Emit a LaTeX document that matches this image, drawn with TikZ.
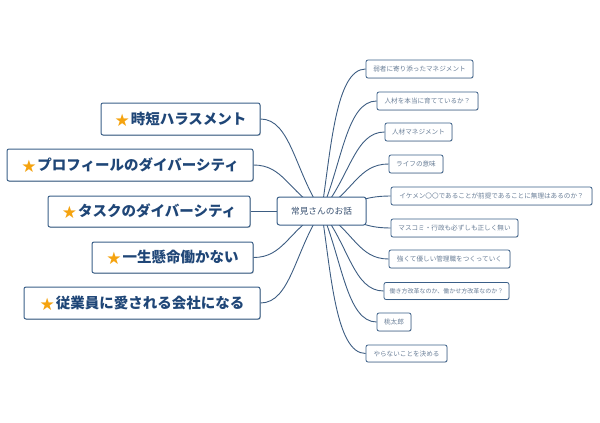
\documentclass[tikz,border=0pt]{standalone}
\usepackage{fontspec}
\newfontfamily\jp{Noto Sans CJK JP}
\newfontfamily\symfont{DejaVu Sans}
\usetikzlibrary{backgrounds,shadows}
\definecolor{boxline}{HTML}{3A5F88}
\definecolor{conncol}{HTML}{3D5D82}
\definecolor{lefttext}{HTML}{1F4677}
\definecolor{righttext}{HTML}{6A7F98}
\definecolor{centertext}{HTML}{3A5272}
\definecolor{starcol}{HTML}{F5A30F}
\newcommand\mystar{\raisebox{-2pt}{\symfont\fontsize{17}{17}\selectfont\color{starcol}★}\hspace{1pt}}
\tikzset{
  lbox/.style={draw=boxline, line width=1pt, rounded corners=2pt, fill=white,
    minimum height=32pt, inner xsep=0pt, text=lefttext,
    drop shadow={shadow xshift=0.8pt, shadow yshift=-0.8pt, opacity=0.2, fill=black},
    font=\jp\bfseries\fontsize{14.5}{16}\selectfont},
  rbox/.style={draw=boxline, line width=0.8pt, rounded corners=2pt, fill=white,
    minimum height=18pt, inner xsep=0pt, text=righttext,
    drop shadow={shadow xshift=0.6pt, shadow yshift=-0.6pt, opacity=0.15, fill=black},
    font=\jp\fontsize{6.6}{8}\selectfont},
  cbox/.style={draw=boxline, line width=1pt, rounded corners=2.5pt, fill=white,
    minimum width=89pt, minimum height=28pt, text=centertext,
    font=\jp\fontsize{8.7}{10}\selectfont},
  conn/.style={draw=conncol, line width=0.9pt}
}
\begin{document}
\begin{tikzpicture}[x=1pt,y=-1pt]
\useasboundingbox (0,0) rectangle (600,423);
% centre
\node[cbox] (c) at (321.5,211) {常見さんのお話};
% left branches
\node[lbox, minimum width=159pt] (l1) at (180.5,119) {\mystar 時短ハラスメント};
\node[lbox, minimum width=246pt] (l2) at (130,165) {\mystar プロフィールのダイバーシティ};
\node[lbox, minimum width=202pt, minimum height=31pt] (l3) at (149,211.5) {\mystar タスクのダイバーシティ};
\node[lbox, minimum width=161pt, minimum height=31pt] (l4) at (172.5,257.5) {\mystar 一生懸命働かない};
\node[lbox, minimum width=236pt] (l5) at (142,303) {\mystar 従業員に愛される会社になる};
% right branches
\node[rbox, minimum width=107pt] (r1) at (419.5,69) {弱者に寄り添ったマネジメント};
\node[rbox, minimum width=101pt] (r2) at (427.5,101) {人材を本当に育てているか？};
\node[rbox, minimum width=67pt] (r3) at (418.5,132) {人材マネジメント};
\node[rbox, minimum width=54pt] (r4) at (416,164) {ライフの意味};
\node[rbox, minimum width=201pt] (r5) at (491.5,196) {イケメン〇〇であることが前提であることに無理はあるのか？};
\node[rbox, minimum width=127pt] (r6) at (454.5,228) {マスコミ・行政も必ずしも正しく無い};
\node[rbox, minimum width=121pt] (r7) at (449.5,259) {強くて優しい管理職をつくっていく};
\node[rbox, minimum width=125pt, minimum height=17pt, font=\jp\fontsize{6}{8}\selectfont] (r8) at (446.5,291) {働き方改革なのか、働かせ方改革なのか？};
\node[rbox, minimum width=34pt] (r9) at (394,322) {桃太郎};
\node[rbox, minimum width=81pt, minimum height=17pt] (r10) at (406.5,353.5) {やらないことを決める};
% connectors
\begin{pgfonlayer}{background}
\draw[conn] (c.center) .. controls +(-26.5,-39.6) and +(30,0) .. (l1.east);
\draw[conn] (c.center) .. controls +(-33.5,-19.8) and +(30,0) .. (l2.east);
\draw[conn] (c.center) -- (l3.east |- c.center);
\draw[conn] (c.center) .. controls +(-33.5,20) and +(30,0) .. (l4.east);
\draw[conn] (c.center) .. controls +(-26.5,39.6) and +(30,0) .. (l5.east);
\draw[conn] (c.center) .. controls +(9.5,-61) and +(-30,0) .. (r1.west);
\draw[conn] (c.center) .. controls +(20.5,-47.3) and +(-30,0) .. (r2.west);
\draw[conn] (c.center) .. controls +(28.5,-34) and +(-30,0) .. (r3.west);
\draw[conn] (c.center) .. controls +(32.5,-20) and +(-30,0) .. (r4.west);
\draw[conn] (c.center) .. controls +(34.5,-6.5) and +(-30,0) .. (r5.west);
\draw[conn] (c.center) .. controls +(34.5,7) and +(-30,0) .. (r6.west);
\draw[conn] (c.center) .. controls +(32.5,20.6) and +(-30,0) .. (r7.west);
\draw[conn] (c.center) .. controls +(27.5,34.4) and +(-30,0) .. (r8.west);
\draw[conn] (c.center) .. controls +(20.5,47.7) and +(-30,0) .. (r9.west);
\draw[conn] (c.center) .. controls +(9.5,61.3) and +(-30,0) .. (r10.west);
\end{pgfonlayer}
\end{tikzpicture}
\end{document}
